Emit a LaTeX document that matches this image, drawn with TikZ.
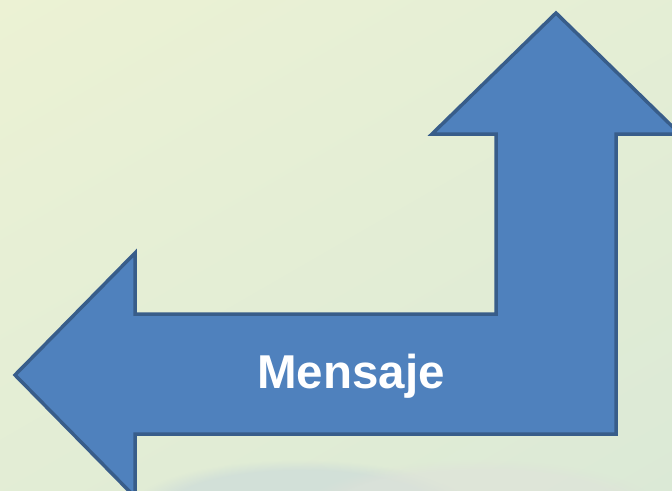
\documentclass[tikz,border=0pt]{standalone}
\usepackage{fontspec}
\setmainfont{Liberation Sans}
\usetikzlibrary{fadings}
\definecolor{bgA}{HTML}{EEF3D4}
\definecolor{bgB}{HTML}{D9E8D6}
\definecolor{arrfill}{HTML}{4F81BD}
\definecolor{arrline}{HTML}{385D8A}
\definecolor{blobA}{HTML}{CAD9DA}
\definecolor{blobB}{HTML}{DFE2DA}
\tikzset{
  bentarrow/.style={fill=arrfill, draw=arrline, line width=3.5pt, line join=miter},
  msg/.style={text=white, font=\fontsize{47.5}{50}\selectfont\bfseries, inner sep=0pt, anchor=base}
}
\begin{document}
\begin{tikzpicture}[x=1pt,y=-1pt]
\useasboundingbox (0,0) rectangle (672,490);
\clip (0,0) rectangle (672,490);
\shade[shading=axis, top color=bgA, bottom color=bgB, shading angle=30] (-200,-200) rectangle (872,690);
\fill[blobA, path fading=circle with fuzzy edge 20 percent, opacity=0.6] (300,510) ellipse (170 and 50);
\fill[blobB, path fading=circle with fuzzy edge 20 percent, opacity=0.6] (480,510) ellipse (180 and 50);
\draw[bentarrow] (556,13) -- (680,134) -- (616,134) -- (616,434) -- (135,434) -- (135,497)
  -- (15,375) -- (135,253) -- (135,314) -- (496,314) -- (496,134) -- (432,134) -- cycle;
\node[msg] (label) at (351,388) {Mensaje};
\end{tikzpicture}
\end{document}
